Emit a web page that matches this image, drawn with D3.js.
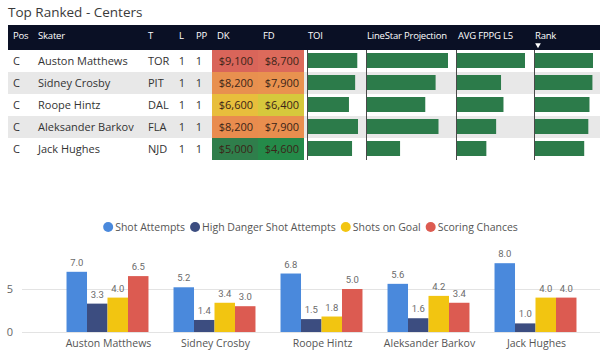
<!DOCTYPE html>
<html lang="en">
<head>
<meta charset="UTF-8">
<title>Top Ranked - Centers</title>
<script src="https://cdnjs.cloudflare.com/ajax/libs/d3/7.8.5/d3.min.js"></script>
<style>
    body { margin: 0; background: #ffffff; font-family: "Open Sans", "Noto Sans", sans-serif; }
    svg { display: block; }
</style>
</head>
<body>
<div id="chart"></div>
<script>
// table data
const positions = ["C", "C", "C", "C", "C"];
const skaters = ["Auston Matthews", "Sidney Crosby", "Roope Hintz", "Aleksander Barkov", "Jack Hughes"];
const teams = ["TOR", "PIT", "DAL", "FLA", "NJD"];
const lines = [1, 1, 1, 1, 1];
const pps = [1, 1, 1, 1, 1];
const dkSalary = [9100, 8200, 6600, 8200, 5000];
const fdSalary = [8700, 7900, 6400, 7900, 4600];
const toi = [20.7, 19.8, 17.2, 21.0, 18.5];
const linestar = [19.6, 16.6, 14.1, 17.3, 8.0];
const avgFppg = [13.9, 9.0, 9.5, 8.0, 6.0];
const rank = [99, 98, 93, 91, 84];

// bar chart data
const seriesNames = ["Shot Attempts", "High Danger Shot Attempts", "Shots on Goal", "Scoring Chances"];
const shotAttempts = [7.0, 5.2, 6.8, 5.6, 8.0];
const highDanger = [3.3, 1.4, 1.5, 1.6, 1.0];
const shotsOnGoal = [4.0, 3.4, 1.8, 4.2, 4.0];
const scoringChances = [6.5, 3.0, 5.0, 3.4, 4.0];
const yTicks = [0, 5];

const W = 600, H = 362;
const svg = d3.select("#chart").append("svg").attr("width", W).attr("height", H);

// title
svg.append("text")
    .attr("x", 8).attr("y", 17)
    .attr("font-size", 13.5)
    .attr("fill", "#3a3a3a")
    .text("Top Ranked - Centers");

// ---------- table ----------
const headTop = 25, headH = 25, rowH = 22;
const tableTop = headTop + headH;

svg.append("rect")
    .attr("x", 8).attr("y", headTop).attr("width", W - 8).attr("height", headH)
    .attr("fill", "#0a1025");

const rowsIdx = d3.range(skaters.length);
const rowY = d3.scaleBand().domain(rowsIdx).range([tableTop, tableTop + rowH * skaters.length]);

svg.selectAll(".rowbg").data(rowsIdx).enter().append("rect")
    .attr("x", 8).attr("y", d => rowY(d)).attr("width", W - 8).attr("height", rowH)
    .attr("fill", d => d % 2 ? "#e8e8e8" : "#ffffff");

const headers = [
    { label: "Pos", x: 13 }, { label: "Skater", x: 38 }, { label: "T", x: 148 },
    { label: "L", x: 179 }, { label: "PP", x: 196 }, { label: "DK", x: 217 },
    { label: "FD", x: 263 }, { label: "TOI", x: 308 }, { label: "LineStar Projection", x: 367 },
    { label: "AVG FPPG L5", x: 458 }, { label: "Rank", x: 535 }
];
svg.selectAll(".hdr").data(headers).enter().append("text")
    .attr("x", d => d.x).attr("y", headTop + 11)
    .attr("dy", "0.35em")
    .attr("font-size", 9.5)
    .attr("letter-spacing", -0.2)
    .attr("fill", "#ffffff")
    .text(d => d.label);

// sort arrow under Rank
svg.append("path")
    .attr("d", d3.symbol(d3.symbolTriangle, 14)())
    .attr("transform", `translate(538,${headTop + 20}) rotate(180)`)
    .attr("fill", "#ffffff");

// salary heat colors
const dkColors = ["#d9655a", "#e8904f", "#e8be3c", "#e98c4e", "#2f7e4b"];
const fdColors = ["#dc6a5b", "#e9924f", "#d6c83c", "#e98e4e", "#248a49"];
const dkX = 212, fdX = 258, fdEnd = 304;

svg.selectAll(".dk").data(rowsIdx).enter().append("rect")
    .attr("x", dkX).attr("y", d => rowY(d)).attr("width", fdX - dkX).attr("height", rowH)
    .attr("fill", d => dkColors[d]);
svg.selectAll(".fd").data(rowsIdx).enter().append("rect")
    .attr("x", fdX).attr("y", d => rowY(d)).attr("width", fdEnd - fdX).attr("height", rowH)
    .attr("fill", d => fdColors[d]);

const money = d3.format("$,");
const cellText = (x, vals, anchor, color) => {
    svg.append("g").selectAll("text").data(vals).enter().append("text")
        .attr("x", x).attr("y", (d, i) => rowY(i) + rowH / 2)
        .attr("dy", "0.35em")
        .attr("font-size", 11)
        .attr("text-anchor", anchor)
        .attr("fill", color || "#333333")
        .text(d => d);
};
cellText(13, positions, "start");
cellText(38, skaters, "start");
cellText(148, teams, "start");
cellText(182, lines, "middle");
cellText(199, pps, "middle");
cellText(253, dkSalary.map(money), "end", "#3b2418");
cellText(299, fdSalary.map(money), "end", "#3b2418");

// data bars
const barCols = [
    { vals: toi, x0: 308, maxW: 50 },
    { vals: linestar, x0: 367, maxW: 81 },
    { vals: avgFppg, x0: 457, maxW: 68 },
    { vals: rank, x0: 535, maxW: 58 }
];
barCols.forEach(col => {
    const xs = d3.scaleLinear().domain([0, d3.max(col.vals)]).range([0, col.maxW]);
    svg.append("line")
        .attr("x1", col.x0 - 0.5).attr("x2", col.x0 - 0.5)
        .attr("y1", tableTop).attr("y2", tableTop + rowH * skaters.length)
        .attr("stroke", "#4a4a4a").attr("stroke-width", 1);
    svg.append("g").selectAll("rect").data(col.vals).enter().append("rect")
        .attr("x", col.x0)
        .attr("y", (d, i) => rowY(i) + 3)
        .attr("width", d => xs(d))
        .attr("height", rowH - 7)
        .attr("fill", "#2c7b4a");
});

// ---------- clustered column chart ----------
const groups = [shotAttempts, highDanger, shotsOnGoal, scoringChances];
const colors = ["#4a89dc", "#3c4d80", "#f2c511", "#dc5b51"];

const x0 = d3.scaleBand().domain(skaters).range([54, 589]).paddingInner(0.234).paddingOuter(0.117);
const x1 = d3.scaleBand().domain(d3.range(seriesNames.length)).range([0, x0.bandwidth()]);
const y = d3.scaleLinear().domain([0, 8]).range([332, 263.2]);

svg.selectAll(".grid").data(yTicks).enter().append("line")
    .attr("x1", 22).attr("x2", W)
    .attr("y1", d => y(d) + 0.5).attr("y2", d => y(d) + 0.5)
    .attr("stroke", "#e3e3e3");

svg.selectAll(".ytick").data(yTicks).enter().append("text")
    .attr("x", 13).attr("y", d => y(d))
    .attr("dy", "0.35em")
    .attr("text-anchor", "end")
    .attr("font-size", 11)
    .attr("fill", "#666666")
    .text(d => d);

const catG = svg.selectAll(".cat").data(skaters).enter().append("g")
    .attr("transform", d => `translate(${x0(d)},0)`);

catG.each(function(name, ci) {
    const g = d3.select(this);
    const vals = groups.map(s => s[ci]);
    g.selectAll("rect").data(vals).enter().append("rect")
        .attr("x", (d, si) => x1(si))
        .attr("y", d => y(d))
        .attr("width", x1.bandwidth())
        .attr("height", d => y(0) - y(d))
        .attr("fill", (d, si) => colors[si]);
    g.selectAll("text.val").data(vals).enter().append("text")
        .attr("class", "val")
        .attr("x", (d, si) => x1(si) + x1.bandwidth() / 2)
        .attr("y", d => y(d) - 6)
        .attr("text-anchor", "middle")
        .attr("font-family", "Roboto, sans-serif")
        .attr("font-size", 9.5)
        .attr("fill", "#6b6b6b")
        .text(d => d.toFixed(1));
});

svg.selectAll(".catlabel").data(skaters).enter().append("text")
    .attr("x", d => x0(d) + x0.bandwidth() / 2 + 1)
    .attr("y", 343)
    .attr("dy", "0.35em")
    .attr("text-anchor", "middle")
    .attr("font-size", 10.5)
    .attr("fill", "#555555")
    .text(d => d);

// legend
const legend = svg.append("g");
let cursor = 0;
seriesNames.forEach((name, i) => {
    legend.append("circle")
        .attr("cx", cursor + 5).attr("cy", 0).attr("r", 5)
        .attr("fill", colors[i]);
    const t = legend.append("text")
        .attr("x", cursor + 12).attr("y", 0)
        .attr("dy", "0.35em")
        .attr("font-size", 10.5)
        .attr("fill", "#555555")
        .text(name);
    cursor += 12 + t.node().getComputedTextLength() + 5;
});
legend.attr("transform", `translate(${313 - cursor / 2},227)`);
</script>
</body>
</html>
